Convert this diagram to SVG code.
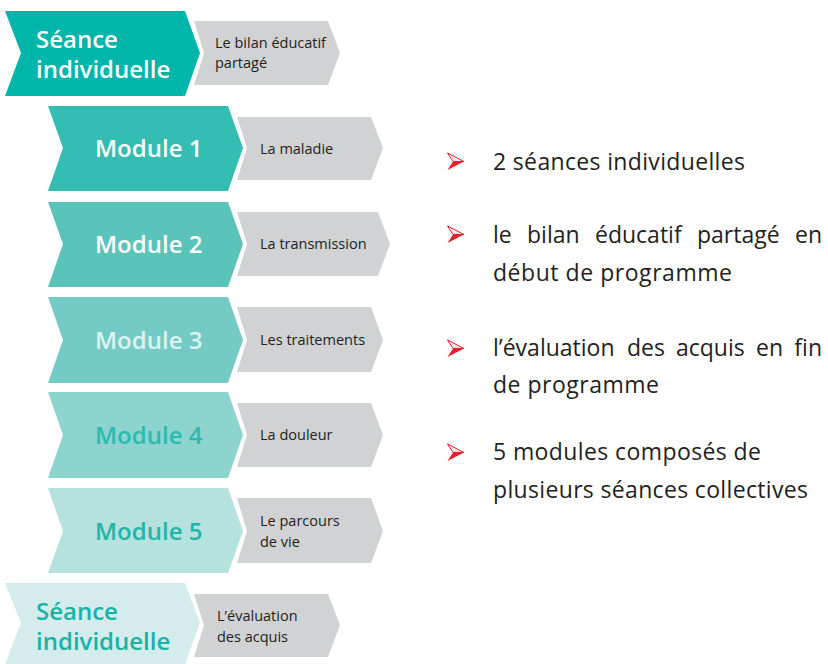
<svg xmlns="http://www.w3.org/2000/svg" width="828" height="664" viewBox="0 0 828 664">
<style>
.t{font-family:"Open Sans","Noto Sans","DejaVu Sans",sans-serif;font-weight:600;font-size:24px}
.g{fill:#D1D2D4}
.gl{font-family:"Open Sans","Noto Sans","DejaVu Sans",sans-serif;font-size:14.5px;fill:#231F20}
.b{font-family:"Open Sans","Noto Sans","DejaVu Sans",sans-serif;font-size:23px;fill:#231F20}
.up{fill:#FDE8EA;stroke:#E8202A;stroke-width:1;stroke-linejoin:round}
.dn{fill:#E8202A}
</style>
<rect width="828" height="664" fill="#FFFFFF"/>

<g id="seance1">
<path d="M5,11 H185 L200,53 L185,96 H5 L21,53 Z" fill="#00B5AA"/>
<text class="t" x="36" y="48" fill="#FFFFFF">Séance</text>
<text class="t" x="36" y="78" fill="#FFFFFF">individuelle</text>
</g>
<g id="seance1-label">
<path class="g" d="M194,21 H328 L340,53 L328,85 H194 L204,53 Z"/>
<text class="gl" x="215" y="48">Le bilan éducatif</text>
<text class="gl" x="215" y="68">partagé</text>
</g>

<g id="module1">
<path d="M48,106 H228 L243,148 L228,191 H48 L63,148 Z" fill="#33BDB3"/>
<text class="t" x="95" y="157" fill="#FFFFFF">Module 1</text>
</g>
<g id="module1-label">
<path class="g" d="M237,117 H371 L383,148 L371,180 H237 L247,148 Z"/>
<text class="gl" x="260" y="154">La maladie</text>
</g>

<g id="module2">
<path d="M48,202 H228 L243,244 L228,287 H48 L63,244 Z" fill="#5BC4BA"/>
<text class="t" x="95" y="253" fill="#FFFFFF">Module 2</text>
</g>
<g id="module2-label">
<path class="g" d="M237,212 H378 L390,244 L378,276 H237 L247,244 Z"/>
<text class="gl" x="260" y="249">La transmission</text>
</g>

<g id="module3">
<path d="M48,297 H228 L243,340 L228,383 H48 L63,340 Z" fill="#74CBC5"/>
<text class="t" x="95" y="349" fill="#DDF3F1">Module 3</text>
</g>
<g id="module3-label">
<path class="g" d="M237,307 H371 L383,340 L371,372 H237 L247,340 Z"/>
<text class="gl" x="260" y="345">Les traitements</text>
</g>

<g id="module4">
<path d="M48,392 H228 L243,435 L228,478 H48 L63,435 Z" fill="#8DD3CE"/>
<text class="t" x="95" y="444" fill="#2BBBAE">Module 4</text>
</g>
<g id="module4-label">
<path class="g" d="M237,403 H371 L383,435 L371,467 H237 L247,435 Z"/>
<text class="gl" x="260" y="440">La douleur</text>
</g>

<g id="module5">
<path d="M48,488 H228 L243,531 L228,573 H48 L63,531 Z" fill="#B5E1DE"/>
<text class="t" x="95" y="540" fill="#22B5A8">Module 5</text>
</g>
<g id="module5-label">
<path class="g" d="M237,498 H371 L383,531 L371,563 H237 L247,531 Z"/>
<text class="gl" x="260" y="526">Le parcours</text>
<text class="gl" x="260" y="547">de vie</text>
</g>

<g id="seance2">
<path d="M5,583 H185 L200,623 L185,664 H5 L21,623 Z" fill="#D4ECEC"/>
<text class="t" x="36" y="620" fill="#17B3A6">Séance</text>
<text class="t" x="36" y="650" fill="#17B3A6">individuelle</text>
</g>
<g id="seance2-label">
<path class="g" d="M194,594 H328 L340,625 L328,657 H194 L204,625 Z"/>
<text class="gl" x="217" y="621">L’évaluation</text>
<text class="gl" x="217" y="642">des acquis</text>
</g>

<g id="connectors"></g>

<g id="bullets">
<g id="bullet1">
<path class="up" d="M447.5,153 L464,161.5 L453,161.5 Z"/><path class="dn" d="M453,161.5 L464,161.5 L447.5,170 Z"/>
<text class="b" x="493" y="170" textLength="252" lengthAdjust="spacing">2 séances individuelles</text>
</g>
<g id="bullet2">
<path class="up" d="M447.5,226 L464,234.5 L453,234.5 Z"/><path class="dn" d="M453,234.5 L464,234.5 L447.5,243 Z"/>
<text class="b" y="243"><tspan x="493">le</tspan><tspan x="527">bilan</tspan><tspan x="595">éducatif</tspan><tspan x="697">partagé</tspan></text>
<text class="b" x="822" y="243" text-anchor="end">en</text>
<text class="b" x="493" y="281" textLength="239" lengthAdjust="spacing">début de programme</text>
</g>
<g id="bullet3">
<path class="up" d="M447.5,340 L464,348.5 L453,348.5 Z"/><path class="dn" d="M453,348.5 L464,348.5 L447.5,357 Z"/>
<text class="b" y="356"><tspan x="493">l’évaluation</tspan><tspan x="627">des</tspan><tspan x="676">acquis</tspan><tspan x="756">en</tspan></text>
<text class="b" x="822" y="356" text-anchor="end">fin</text>
<text class="b" x="493" y="393" textLength="166" lengthAdjust="spacing">de programme</text>
</g>
<g id="bullet4">
<path class="up" d="M447.5,444 L464,452.5 L453,452.5 Z"/><path class="dn" d="M453,452.5 L464,452.5 L447.5,461 Z"/>
<text class="b" x="493" y="460" textLength="268" lengthAdjust="spacing">5 modules composés de</text>
<text class="b" x="493" y="498" textLength="315" lengthAdjust="spacing">plusieurs séances collectives</text>
</g>
</g>
</svg>
